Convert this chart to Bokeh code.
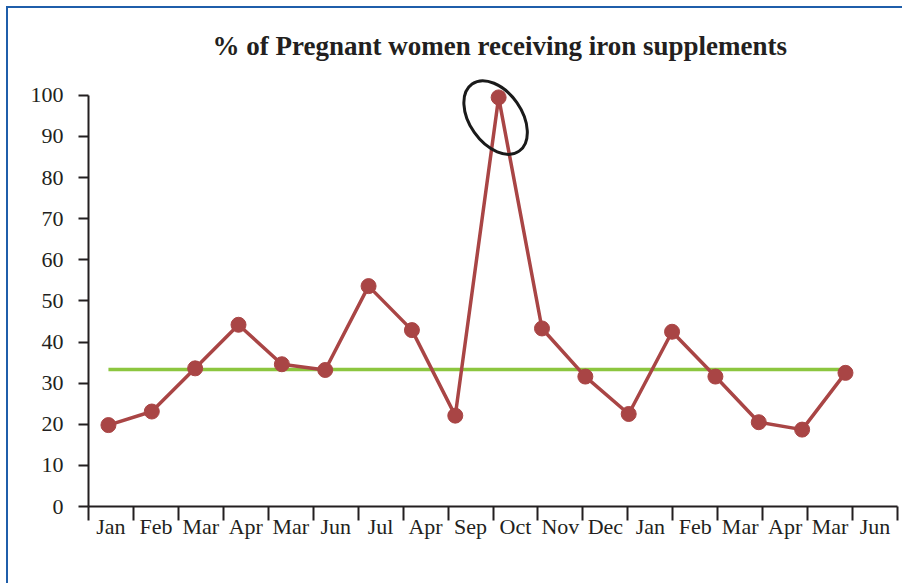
import math
from bokeh.plotting import figure
from bokeh.models import (Range1d, LinearAxis, FixedTicker, CustomJSTickFormatter,
                          ColumnDataSource, Title)
from bokeh.embed import file_html
from bokeh.resources import INLINE

# ---- data ----
month_labels = ["Jan", "Feb", "Mar", "Apr", "Mar", "Jun", "Jul", "Apr", "Sep",
                "Oct", "Nov", "Dec", "Jan", "Feb", "Mar", "Apr", "Mar", "Jun"]
pct_values = [19.8, 23.1, 33.6, 44.2, 34.6, 33.2, 53.6, 42.9, 22.1,
              99.5, 43.3, 31.6, 22.5, 42.5, 31.6, 20.5, 18.7, 32.5]
center_line = 33.3
y_ticks = [0, 10, 20, 30, 40, 50, 60, 70, 80, 90, 100]
title_text = "% of Pregnant women receiving iron supplements"

TEXT = "#231f20"
RED = "#a94545"
GREEN = "#8cc63f"
BLUE = "#1f5eaa"
SERIF = "Liberation Serif"

x_idx = list(range(len(pct_values)))
src = ColumnDataSource(dict(x=x_idx, y=pct_values))
med = ColumnDataSource(dict(x=x_idx, y=[center_line] * len(x_idx)))

W, H = 896, 577
p = figure(width=W, height=H, output_backend="svg", toolbar_location=None,
           x_range=Range1d(-0.46, 18.2), y_range=Range1d(0, 107.5),
           x_axis_location=None,
           min_border_left=80, min_border_right=7, min_border_top=56,
           min_border_bottom=79, title=None)
p.outline_line_color = None
p.background_fill_color = "white"
p.border_fill_color = "white"
p.xgrid.visible = False
p.ygrid.visible = False
p.styles = {"border-top": f"2px solid {BLUE}", "border-left": f"2px solid {BLUE}",
            "margin-top": "6px", "margin-left": "6px"}

t = Title(text=title_text, align="left", offset=124, standoff=8,
          text_font=SERIF, text_font_size="27px", text_font_style="bold",
          text_color=TEXT)
p.add_layout(t, "above")

# y axis
ya = p.yaxis[0]
ya.ticker = FixedTicker(ticks=y_ticks)
ya.bounds = (y_ticks[0], y_ticks[-1])
ya.axis_line_width = 2
ya.axis_line_color = TEXT
ya.major_tick_line_width = 2
ya.major_tick_line_color = TEXT
ya.major_tick_out = 10
ya.major_tick_in = 0
ya.minor_tick_line_color = None
ya.major_label_standoff = 15
ya.major_label_text_font = SERIF
ya.major_label_text_font_size = "22px"
ya.major_label_text_color = TEXT

# category axis below
n_cat = len(month_labels)
p.extra_x_ranges = {"cat": Range1d(0, n_cat)}
xa = LinearAxis(x_range_name="cat")
xa.ticker = FixedTicker(ticks=[i + 0.5 for i in range(n_cat)],
                        minor_ticks=list(range(n_cat + 1)))
xa.formatter = CustomJSTickFormatter(args=dict(labels=month_labels),
                                     code="return labels[Math.floor(tick)];")
xa.bounds = (0, n_cat)
xa.axis_line_width = 2
xa.axis_line_color = TEXT
xa.major_tick_line_color = None
xa.major_tick_out = 0
xa.major_tick_in = 0
xa.minor_tick_line_color = TEXT
xa.minor_tick_line_width = 2
xa.minor_tick_out = 14
xa.minor_tick_in = 0
xa.major_label_standoff = -7
xa.major_label_text_font = SERIF
xa.major_label_text_font_size = "22px"
xa.major_label_text_color = TEXT
p.add_layout(xa, "below")

# center line
p.line("x", "y", source=med, line_color=GREEN, line_width=3.5)
# series
p.line("x", "y", source=src, line_color=RED, line_width=3.5)
p.scatter("x", "y", source=src, size=15, fill_color=RED, line_color=RED)

# highlight ellipse around the maximum
peak_i = pct_values.index(max(pct_values))
p.ellipse(x=[peak_i - 0.07], y=[pct_values[peak_i] - 4.9], width=82, height=52,
          width_units="screen", height_units="screen", angle=-55, angle_units="deg",
          fill_color=None, line_color="#1a1a1a", line_width=3)

open("out.html", "w").write(file_html(p, INLINE))
